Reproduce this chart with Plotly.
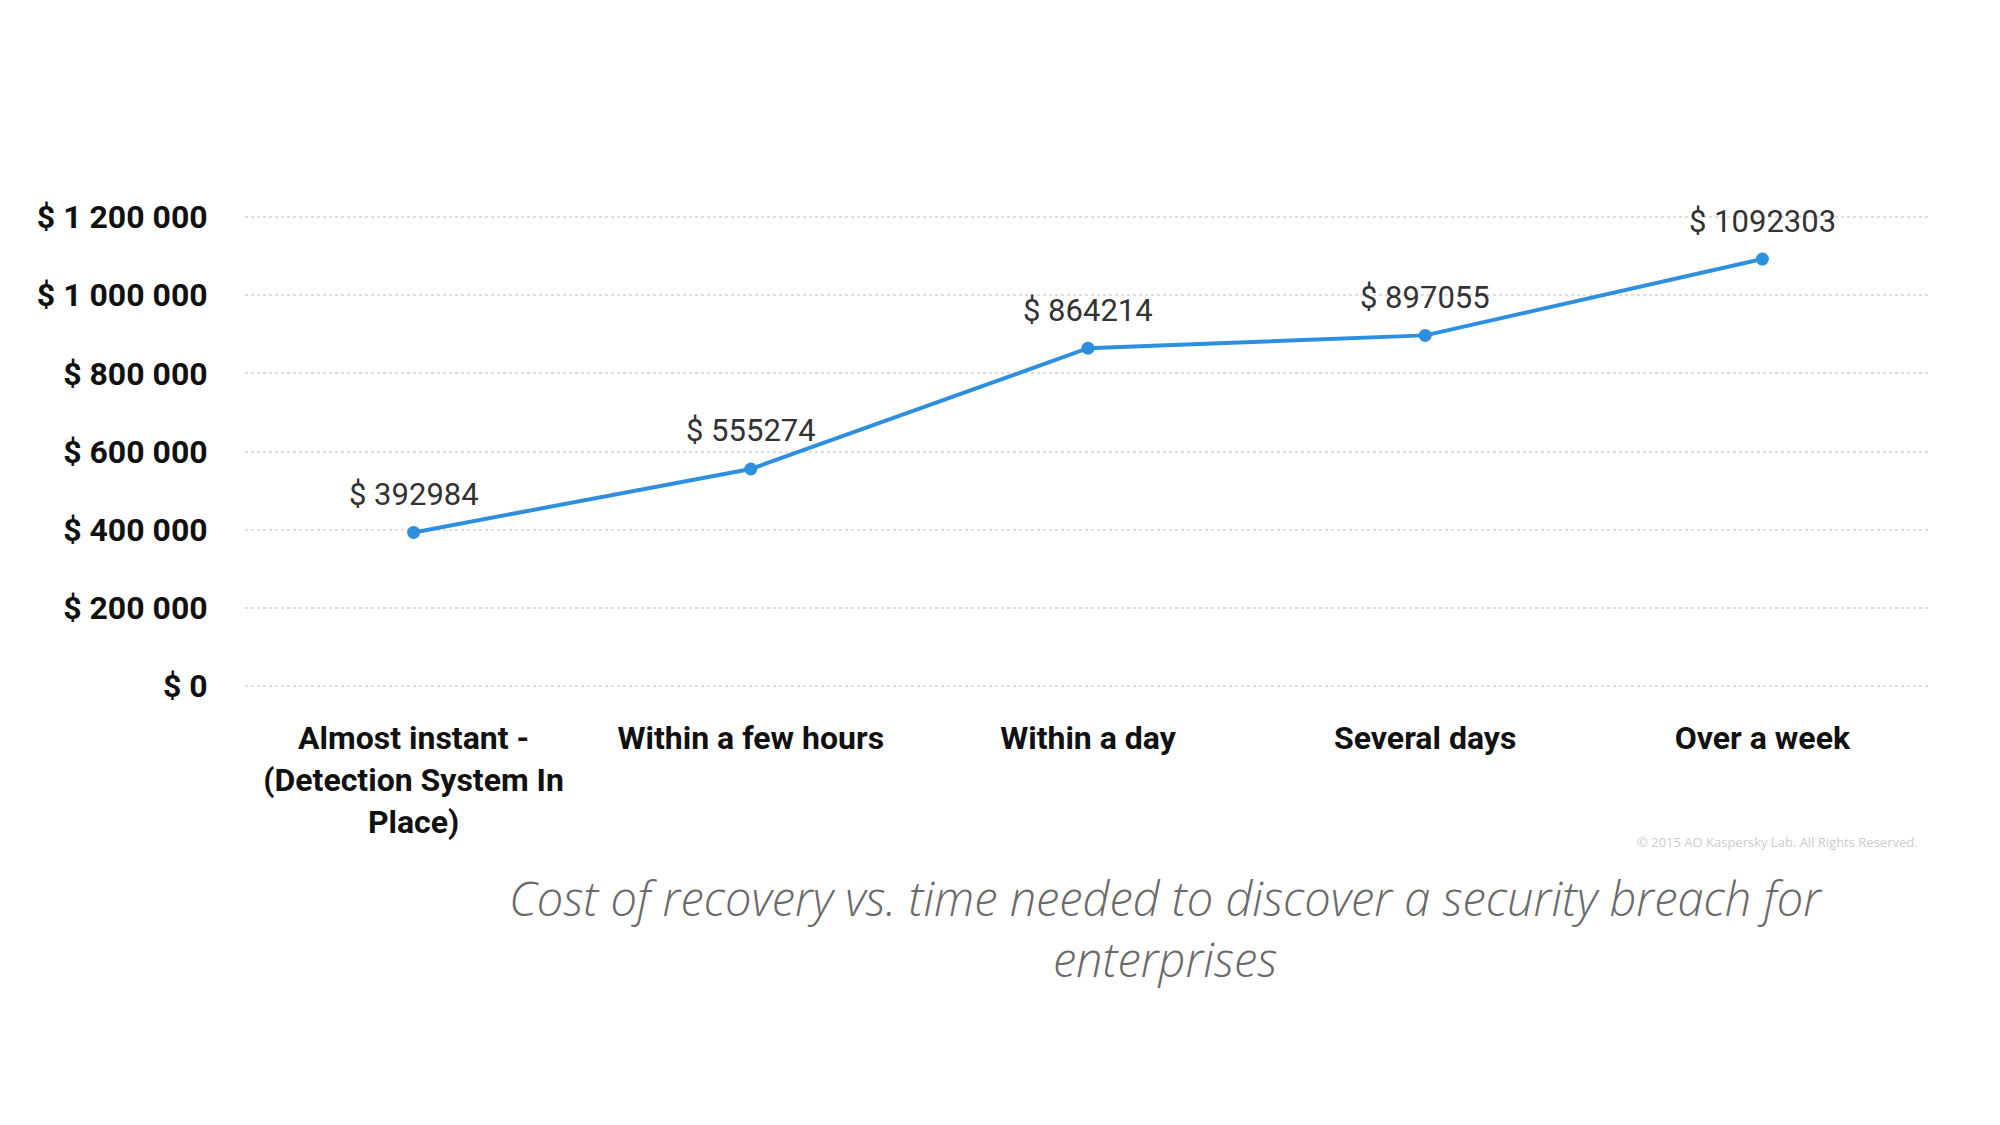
import plotly.graph_objects as go

categories = [
    "Almost instant -<br>(Detection System In<br>Place)",
    "Within a few hours",
    "Within a day",
    "Several days",
    "Over a week",
]
costs = [392984, 555274, 864214, 897055, 1092303]
cost_labels = ["$ 392984", "$ 555274", "$ 864214", "$ 897055", "$ 1092303"]
y_tick_values = [0, 200000, 400000, 600000, 800000, 1000000, 1200000]
y_tick_labels = ["$ 0", "$ 200 000", "$ 400 000", "$ 600 000", "$ 800 000", "$ 1 000 000", "$ 1 200 000"]
title_text = "Cost of recovery vs. time needed to discover a security breach for<br>enterprises"
copyright_text = "© 2015 AO Kaspersky Lab. All Rights Reserved."

BLUE = "#2d8fdd"
COND = "Roboto, Liberation Sans Narrow, sans-serif"

fig = go.Figure()
fig.add_trace(go.Scatter(
    x=categories, y=costs, mode="lines+markers",
    line=dict(color=BLUE, width=4),
    marker=dict(color=BLUE, size=13),
    hoverinfo="skip", showlegend=False,
))

for c, v, t in zip(categories, costs, cost_labels):
    fig.add_annotation(
        x=c, y=v, xref="x", yref="y", text=t, showarrow=False,
        yanchor="middle", xanchor="center", yshift=38,
        font=dict(family=COND, size=31, color="#333333"),
    )

fig.add_annotation(
    x=0.546, y=-0.373, xref="paper", yref="paper", text=title_text,
    showarrow=False, xanchor="center", yanchor="top",
    font=dict(family="Open Sans, Lato, sans-serif", size=47, color="#6a6a6a", style="italic", weight=300),
)
fig.add_annotation(
    x=0.9935, y=-0.326, xref="paper", yref="paper", text=copyright_text,
    showarrow=False, xanchor="right", yanchor="middle",
    font=dict(family="Open Sans, sans-serif", size=13, color="#cccccc"),
)

fig.update_layout(
    width=2000, height=1125,
    margin=dict(l=245, r=69, t=215, b=437),
    paper_bgcolor="white", plot_bgcolor="white",
    xaxis=dict(
        type="category", range=[-0.5, 4.5],
        showgrid=False, zeroline=False, showline=False,
        tickangle=0,
        ticks="outside", ticklen=22, tickcolor="rgba(0,0,0,0)",
        tickfont=dict(family=COND, size=32, color="#111111", weight="bold"),
    ),
    yaxis=dict(
        range=[-5000, 1205000], tickvals=y_tick_values, ticktext=y_tick_labels,
        showgrid=True, gridcolor="#dedede", gridwidth=2, griddash="dot",
        zeroline=False, showline=False,
        ticks="outside", ticklen=30, tickcolor="rgba(0,0,0,0)",
        tickfont=dict(family=COND, size=32, color="#111111", weight="bold"),
    ),
)

fig.write_html("out.html")
